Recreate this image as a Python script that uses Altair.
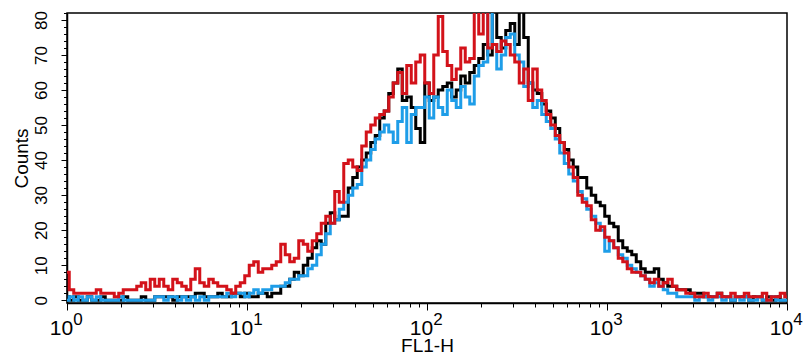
import altair as alt
import pandas as pd

# channel width in decades (log-scaled FL1-H histogram, 161 channels over 4 decades)
STEP = 0.025

red_counts = [
    8, 3, 2, 2, 2, 2, 2, 3, 2, 2,
    2, 1, 2, 3, 3, 3, 4, 5, 3, 6,
    4, 6, 4, 3, 6, 5, 4, 3, 6, 9,
    5, 4, 6, 5, 4, 4, 3, 2, 4, 5,
    7, 10, 11, 8, 9, 9, 10, 11, 16, 13,
    11, 12, 17, 16, 14, 17, 19, 22, 24, 22,
    31, 28, 39, 40, 38, 37, 44, 48, 50, 52,
    53, 54, 58, 62, 65, 59, 67, 62, 68, 70,
    62, 59, 70, 81, 71, 67, 63, 66, 72, 68,
    69, 84, 76, 84, 72, 73, 71, 74, 73, 70,
    68, 62, 66, 57, 66, 60, 57, 53, 50, 47,
    45, 42, 38, 35, 30, 28, 27, 23, 20, 21,
    18, 17, 15, 12, 11, 9, 8, 8, 7, 6,
    5, 6, 4, 5, 6, 4, 3, 3, 2, 2,
    1, 1, 2, 1, 1, 2, 1, 1, 2, 1,
    1, 2, 1, 1, 1, 2, 0, 1, 1, 2,
    1,
]

blue_counts = [
    0, 1, 0, 1, 0, 1, 0, 1, 0, 0,
    0, 0, 1, 0, 0, 0, 0, 0, 0, 0,
    1, 1, 0, 1, 1, 0, 1, 0, 1, 0,
    1, 0, 1, 1, 1, 1, 2, 1, 2, 2,
    1, 2, 3, 2, 3, 3, 4, 4, 4, 5,
    6, 6, 7, 7, 9, 10, 13, 16, 19, 22,
    23, 26, 28, 30, 32, 33, 38, 40, 43, 46,
    48, 50, 48, 45, 51, 55, 45, 53, 55, 55,
    58, 52, 58, 55, 53, 60, 57, 55, 61, 58,
    56, 64, 67, 68, 84, 73, 66, 70, 75, 76,
    70, 68, 61, 62, 55, 57, 53, 51, 49, 46,
    42, 39, 36, 34, 31, 29, 26, 24, 22, 20,
    14, 17, 15, 13, 12, 10, 9, 8, 7, 6,
    4, 5, 4, 3, 2, 2, 1, 1, 1, 1,
    0, 1, 1, 0, 1, 1, 0, 1, 0, 1,
    0, 1, 0, 0, 1, 0, 0, 1, 0, 0,
    0,
]

black_counts = [
    1, 0, 1, 0, 0, 1, 0, 0, 1, 0,
    0, 0, 0, 1, 0, 0, 0, 1, 0, 0,
    1, 1, 1, 1, 0, 1, 1, 1, 1, 2,
    2, 1, 1, 1, 2, 1, 1, 2, 2, 1,
    2, 1, 1, 2, 2, 1, 2, 2, 4, 4,
    6, 8, 7, 10, 12, 15, 17, 16, 22, 25,
    23, 24, 24, 32, 35, 38, 40, 42, 45, 47,
    52, 54, 59, 62, 66, 57, 58, 55, 49, 45,
    62, 57, 58, 60, 61, 62, 58, 60, 64, 62,
    65, 67, 69, 73, 70, 84, 75, 72, 77, 79,
    73, 84, 75, 62, 60, 59, 56, 54, 52, 49,
    45, 43, 40, 38, 35, 35, 32, 30, 28, 27,
    24, 22, 21, 17, 15, 14, 13, 11, 9, 8,
    8, 9, 6, 5, 4, 4, 3, 3, 3, 2,
    2, 2, 1, 1, 1, 2, 1, 1, 0, 1,
    1, 1, 0, 1, 1, 0, 1, 0, 1, 0,
    0,
]

decades = [1, 10, 100, 1000, 10000]
exponents = ["0", "1", "2", "3", "4"]
x_tick_values = [m * 10 ** d for d in range(4) for m in range(1, 10)] + [10000]
y_tick_values = list(range(0, 83, 2))

FONT = "Liberation Sans Narrow, Arial Narrow, Liberation Sans, Arial, sans-serif"
FONT_REG = "Liberation Sans, Arial, sans-serif"

channels = [10 ** (i * STEP) for i in range(len(red_counts))]


def frame(vals):
    return pd.DataFrame({"FL1-H": channels, "Counts": vals})


x_scale = alt.Scale(type="log", domain=[1, 10000], nice=False)
y_scale = alt.Scale(domain=[-0.8, 82.0], nice=False, zero=False)

major_x = "indexof([1,10,100,1000,10000], datum.value) >= 0"

x_axis = alt.Axis(
    values=x_tick_values,
    labelExpr=f"{major_x} ? '10' : ''",
    tickSize={"condition": {"test": major_x, "value": 7}, "value": 4},
    labelFont=FONT, labelFontSize=21, labelColor="black",
    labelPadding=7, labelOffset=-6, labelAlign="center", labelBaseline="top",
    labelOverlap=False, labelFlush=False, labelBound=False,
    title="FL1-H", titleFont=FONT, titleFontSize=19, titleFontWeight="normal",
    titleColor="black", titleY=48.5, titleBaseline="alphabetic",
    grid=False, tickColor="black", domainColor="black", domainWidth=1.5,
)

y_axis = alt.Axis(
    values=y_tick_values,
    labelExpr="datum.value % 10 == 0 ? datum.label : ''",
    tickSize={"condition": {"test": "datum.value % 10 == 0", "value": 6}, "value": 3.5},
    labelFont=FONT_REG, labelFontSize=17, labelColor="black",
    labelAngle=270, labelAlign="center", labelBaseline="alphabetic",
    labelPadding=15, labelOverlap=False, labelFlush=False, labelBound=False,
    title="Counts", titleFont=FONT_REG, titleFontSize=19, titleFontWeight="normal",
    titleColor="black", titleAngle=270, titleX=-40, titleBaseline="alphabetic",
    grid=False, tickColor="black", domainColor="black", domainWidth=1.5,
)


def series(vals, color):
    return alt.Chart(frame(vals)).mark_line(
        interpolate="step", color=color, strokeWidth=3, clip=True
    ).encode(
        x=alt.X("FL1-H:Q", scale=x_scale, axis=x_axis),
        y=alt.Y("Counts:Q", scale=y_scale, axis=y_axis),
    )


exp_df = pd.DataFrame({"FL1-H": decades, "exp": exponents})
exp_text = alt.Chart(exp_df).mark_text(
    align="center", baseline="alphabetic", dx=11, fontSize=17, font=FONT, color="black"
).encode(
    x=alt.X("FL1-H:Q", scale=x_scale, axis=x_axis),
    y=alt.value(312),
    text="exp:N",
)

chart = alt.layer(
    series(black_counts, "#000000"),
    series(blue_counts, "#1E9DE8"),
    series(red_counts, "#D3121A"),
    exp_text,
).properties(
    width=720,
    height=290,
    background="white",
    padding={"left": 67, "top": 13, "right": 16, "bottom": 51},
    autosize=alt.AutoSizeParams(type="none"),
).configure_view(
    stroke="black", strokeWidth=1.5
)

chart.save("out.html", embed_options={"renderer": "svg", "actions": False})
